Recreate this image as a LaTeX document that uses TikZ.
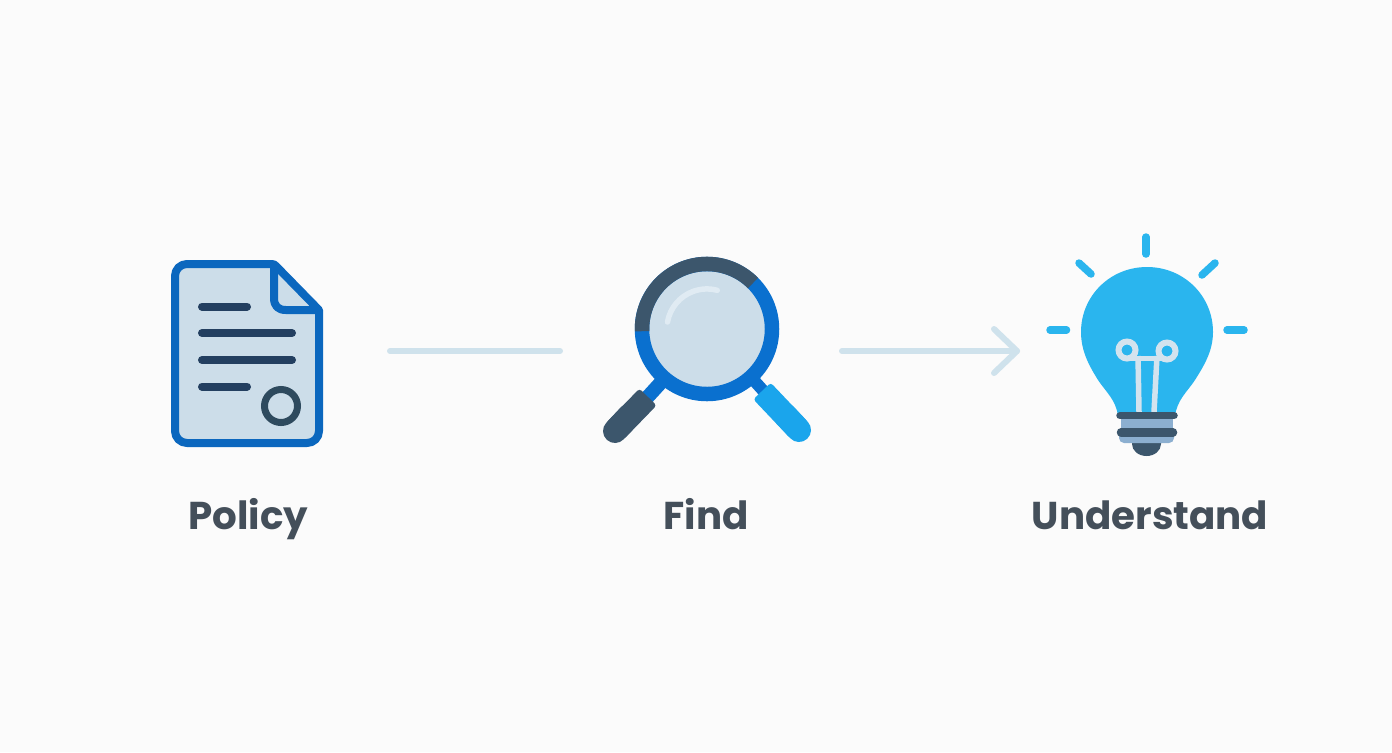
\documentclass[tikz,border=0pt]{standalone}
\usepackage{fontspec}
\newfontfamily\labfont{Poppins}[Scale=1,UprightFont=*-Bold]
\definecolor{bg}{HTML}{FBFBFB}
\definecolor{docblue}{HTML}{0B67BE}
\definecolor{paper}{HTML}{CCDDE9}
\definecolor{ink}{HTML}{233F60}
\definecolor{slate}{HTML}{3C566C}
\definecolor{seal}{HTML}{2E4A5E}
\definecolor{ringblue}{HTML}{0A70CF}
\definecolor{sky}{HTML}{1AA5EC}
\definecolor{bulb}{HTML}{2AB5EE}
\definecolor{fil}{HTML}{D3E3EE}
\definecolor{band}{HTML}{8CAFD0}
\definecolor{conn}{HTML}{CFE2EC}
\definecolor{labelc}{HTML}{444F5A}
\tikzset{
  x=0.5pt,y=-0.5pt,
  px/.style={line width=#1*0.5pt},
  doctext/.style={draw=ink,px=8,line cap=round},
  ray/.style={draw=bulb,px=7.5,line cap=round},
  connector/.style={draw=conn,px=6,line cap=round,line join=round},
  lab/.style={text=labelc,font=\labfont\fontsize{19.4}{24}\selectfont,anchor=base,inner sep=0pt},
}
\begin{document}
\begin{tikzpicture}
\useasboundingbox (0,0) rectangle (1392,752);
\fill[bg] (0,0) rectangle (1392,752);
% document icon
\path[fill=paper,draw=docblue,px=8,line join=round]
  (187,264) -- (272,264) .. controls (274,264) and (275,265) .. (276,266) -- (319,310) -- (319,431)
  arc[start angle=0,end angle=90,radius=12] -- (187,443)
  arc[start angle=90,end angle=180,radius=12] -- (175,276)
  arc[start angle=180,end angle=270,radius=12] -- cycle;
\draw[docblue,px=8,line join=round] (274,266) -- (274,298)
  .. controls (274,306) and (278,310) .. (286,310) -- (319,310);
\draw[doctext] (202,306.5) -- (247,306.5);
\draw[doctext] (202,333) -- (292,333);
\draw[doctext] (202,360) -- (292,360);
\draw[doctext] (202,386.5) -- (247,386.5);
\draw[seal,px=7] (281,406) circle[radius=16.5];
% magnifier
\coordinate (lens) at (707,329);
\draw[ringblue,px=14] (665,378) -- (644,401);
\draw[ringblue,px=12] (750,376) -- (768,396);
\draw[slate,px=24,line cap=round] (615,431) -- (630,415);
\fill[slate,rounded corners=1.5pt] (623.6,439.4) -- (656.6,405.4) -- (639.4,388.6) -- (606.4,422.6) -- cycle;
\draw[sky,px=24,line cap=round] (799,430) -- (785,415);
\fill[sky,rounded corners=1.5pt] (807.7,421.7) -- (770.7,382.7) -- (753.3,399.3) -- (790.3,438.3) -- cycle;
\fill[paper] (lens) circle[radius=59];
\draw[ringblue,px=14.5] (lens) circle[radius=65];
\draw[slate,px=14.5] (753,283) arc[start angle=45,end angle=182,radius=65,y radius=-65];
\draw[fil!70!white,px=5.5,line cap=round] (667.5,322) arc[start angle=170,end angle=75,radius=40,y radius=-40];
% bulb
\fill[bulb] (1147,267)
  .. controls (1110,267) and (1081,296) .. (1081,332)
  .. controls (1081,352) and (1090,367) .. (1098,380)
  .. controls (1106,392) and (1116,400) .. (1118,416)
  -- (1175,416)
  .. controls (1177,400) and (1187,392) .. (1195,380)
  .. controls (1203,367) and (1213,352) .. (1213,332)
  .. controls (1213,296) and (1184,267) .. (1147,267) -- cycle;
\draw[fil,px=6] (1127,350) circle[radius=8.5];
\draw[fil,px=6] (1167,351) circle[radius=8.5];
\draw[fil,px=5] (1130,358) -- (1164,358);
\draw[fil,px=5.5] (1138,356) -- (1139,412);
\draw[fil,px=5.5] (1157,356) -- (1154,412);
\fill[slate] (1132,441) -- (1161,441) -- (1161,444) arc[start angle=0,end angle=180,x radius=14.5,y radius=12] -- cycle;
\fill[band,rounded corners=2.5pt] (1119,430) rectangle (1174,443);
\fill[band] (1121,418) rectangle (1173,430);
\draw[slate,px=7.5,line cap=round] (1120,415.7) -- (1174,415.7);
\draw[slate,px=8.5,line cap=round] (1121,432.3) -- (1173,432.3);
\draw[ray] (1146,237) -- (1146,254);
\draw[ray] (1079,263) -- (1091,274);
\draw[ray] (1215,263) -- (1202,275);
\draw[ray] (1050,330) -- (1066.5,330);
\draw[ray] (1227,330) -- (1244,330);
% connectors
\coordinate (a1) at (390,351);
\coordinate (a2) at (560,351);
\coordinate (b1) at (842,351);
\coordinate (b2) at (1017,351);
\coordinate (b3) at (994,329);
\coordinate (b4) at (994,373);
\draw[connector] (a1) -- (a2);
\draw[connector] (b1) -- (b2);
\draw[connector] (b3) -- (b2) -- (b4);
% labels
\node[lab] (policy) at (248.5,529) {Policy};
\node[lab] (find) at (706,529) {Find};
\node[lab] (understand) at (1150,529) {Understand};
\end{tikzpicture}
\end{document}
